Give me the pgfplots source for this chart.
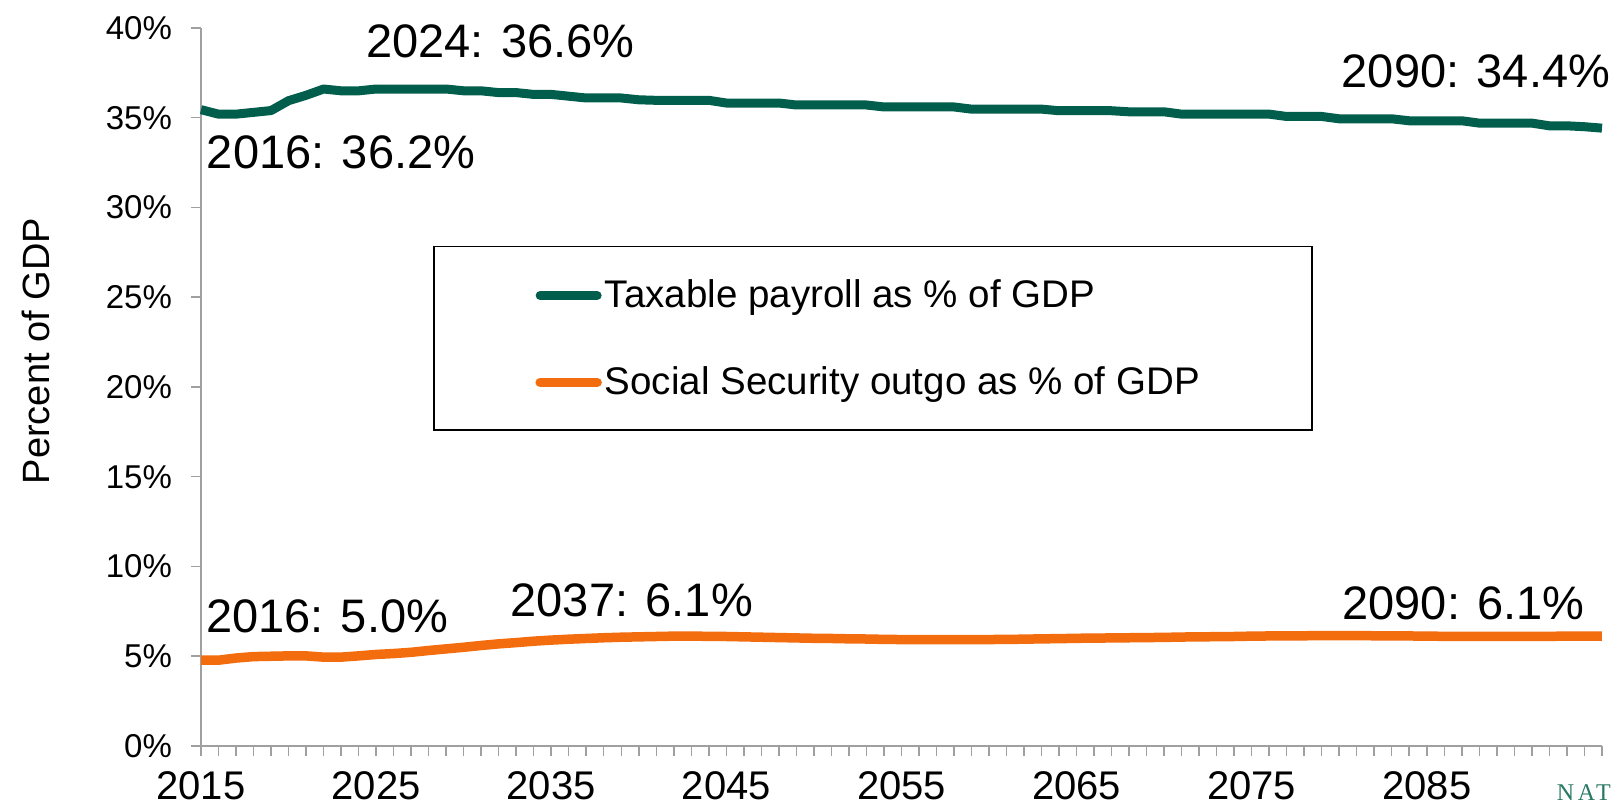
\documentclass[border=0pt]{standalone}
\usepackage{fontspec}
\setmainfont{Liberation Sans}
\newfontfamily\natfont[LetterSpace=15]{Liberation Serif}
\usepackage{pgfplots}
\usepackage{pgfplotstable}
\pgfplotsset{compat=1.18}

\definecolor{payroll}{RGB}{2,94,76}
\definecolor{outgo}{RGB}{243,108,14}
\definecolor{axisgray}{RGB}{160,160,160}
\definecolor{natteal}{RGB}{40,120,100}

% year, taxable payroll (% GDP), SS outgo (% GDP)
\pgfplotstableread{
year payroll outgo
2015 35.45 4.78
2016 35.20 4.78
2017 35.20 4.90
2018 35.30 4.98
2019 35.40 5.00
2020 35.95 5.02
2021 36.25 5.02
2022 36.60 4.95
2023 36.50 4.95
2024 36.50 5.02
2025 36.60 5.10
2026 36.60 5.15
2027 36.60 5.22
2028 36.60 5.32
2029 36.60 5.41
2030 36.50 5.50
2031 36.50 5.60
2032 36.40 5.69
2033 36.40 5.76
2034 36.30 5.84
2035 36.30 5.90
2036 36.20 5.95
2037 36.10 5.99
2038 36.10 6.03
2039 36.10 6.06
2040 36.00 6.08
2041 35.97 6.10
2042 35.97 6.12
2043 35.97 6.12
2044 35.97 6.11
2045 35.82 6.10
2046 35.82 6.08
2047 35.82 6.06
2048 35.82 6.04
2049 35.71 6.02
2050 35.71 6.00
2051 35.71 5.99
2052 35.71 5.97
2053 35.71 5.96
2054 35.60 5.94
2055 35.60 5.93
2056 35.60 5.93
2057 35.60 5.93
2058 35.60 5.93
2059 35.48 5.93
2060 35.48 5.93
2061 35.48 5.94
2062 35.48 5.95
2063 35.48 5.97
2064 35.39 5.98
2065 35.39 6.00
2066 35.39 6.01
2067 35.39 6.02
2068 35.33 6.03
2069 35.33 6.04
2070 35.33 6.05
2071 35.20 6.07
2072 35.20 6.08
2073 35.20 6.09
2074 35.20 6.10
2075 35.20 6.12
2076 35.20 6.13
2077 35.07 6.14
2078 35.07 6.14
2079 35.07 6.15
2080 34.94 6.15
2081 34.94 6.15
2082 34.94 6.14
2083 34.94 6.13
2084 34.83 6.13
2085 34.83 6.12
2086 34.83 6.11
2087 34.83 6.11
2088 34.70 6.10
2089 34.70 6.10
2090 34.70 6.10
2091 34.70 6.11
2092 34.55 6.11
2093 34.55 6.12
2094 34.50 6.12
2095 34.42 6.12
}\ratios

\begin{document}
\begin{tikzpicture}
\path[use as bounding box] (0,0) rectangle (811pt,403.5pt);

\begin{axis}[
    at={(100.5pt,30.5pt)}, anchor=south west,
    scale only axis,
    width=700.5pt, height=359pt,
    xmin=2015, xmax=2095,
    ymin=0, ymax=40,
    clip=false,
    axis lines=left,
    axis line style={axisgray, line width=0.75pt, -},
    xtick={2015,2025,...,2085},
    xticklabels={2015,2025,2035,2045,2055,2065,2075,2085},
    minor xtick={2016,2017,...,2095},
    ytick={0,5,...,40},
    yticklabels={0\%,5\%,10\%,15\%,20\%,25\%,30\%,35\%,40\%},
    tick align=outside,
    major tick length=5pt, minor tick length=5pt,
    tick style={axisgray, line width=0.75pt},
    xticklabel style={font=\fontsize{20}{23}\selectfont, yshift=-4.5pt},
    yticklabel style={font=\fontsize{16.5}{20}\selectfont, xshift=-6pt},
    legend cell align=left,
    legend image code/.code={\draw[#1, line cap=round] (0pt,0pt) -- (28.5pt,0pt);},
    legend style={
        at={(axis description cs:0.2384,0.5669)}, anchor=west,
        draw=none, fill=none, inner xsep=0pt, inner ysep=0pt,
        row sep=25pt,
        nodes={inner sep=1.5pt},
        font=\fontsize{19.25}{23}\selectfont},
]

% legend frame
\draw[black, line width=0.75pt]
    (axis description cs:0.1663,0.44) rectangle (axis description cs:0.793,0.696);

\addplot[payroll, line width=4.5pt, line join=round] table[x=year, y=payroll] {\ratios};
\addlegendentry{Taxable payroll as \% of GDP}
\addplot[outgo, line width=4.75pt, line join=round] table[x=year, y=outgo] {\ratios};
\addlegendentry{Social Security outgo as \% of GDP}

% call-outs
\begin{scope}[every node/.style={inner sep=0pt, font=\fontsize{23.5}{28}\selectfont}]
\node at (axis cs:2032.1,39.24) {2024: 36.6\%};
\node at (axis cs:2023.0,33.1) {2016: 36.2\%};
\node at (axis cs:2087.8,37.57) {2090: 34.4\%};
\node at (axis cs:2022.2,7.25) {2016: 5.0\%};
\node at (axis cs:2039.6,8.14) {2037: 6.1\%};
\node at (axis cs:2087.1,7.97) {2090: 6.1\%};
\end{scope}

\node[rotate=90, inner sep=0pt, font=\fontsize{19}{23}\selectfont]
    at (axis description cs:-0.1178,0.55) {Percent of GDP};

\node[anchor=west, inner sep=0pt, text=natteal, font=\natfont\fontsize{12}{14}\selectfont]
    at (axis cs:2092.4,-2.62) {NAT};
\end{axis}
\end{tikzpicture}
\end{document}
